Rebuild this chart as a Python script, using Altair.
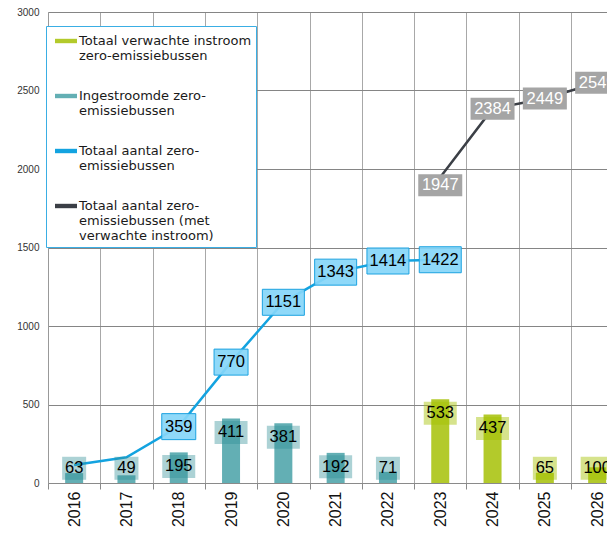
import altair as alt
import pandas as pd

# ---------------- data ----------------
years = ["2016", "2017", "2018", "2019", "2020", "2021", "2022",
         "2023", "2024", "2025", "2026"]

inflow_years = ["2016", "2017", "2018", "2019", "2020", "2021", "2022"]
inflow_values = [63, 49, 195, 411, 381, 192, 71]

expected_years = ["2023", "2024", "2025", "2026"]
expected_values = [533, 437, 65, 100]

total_years = ["2016", "2017", "2018", "2019", "2020", "2021", "2022", "2023"]
total_values = [115, 164, 359, 770, 1151, 1343, 1414, 1422]
total_label_years = ["2018", "2019", "2020", "2021", "2022", "2023"]

exp_total_years = ["2023", "2024", "2025", "2026"]
exp_total_values = [1947, 2384, 2449, 2549]

y_ticks = [0, 500, 1000, 1500, 2000, 2500, 3000]

S_EXP = "Totaal verwachte instroom|zero-emissiebussen"
S_IN = "Ingestroomde zero-|emissiebussen"
S_TOT = "Totaal aantal zero-|emissiebussen"
S_EXPTOT = "Totaal aantal zero-|emissiebussen (met|verwachte instroom)"
series_names = [S_EXP, S_IN, S_TOT, S_EXPTOT]
series_colors = ["#b3ca2b", "#63afb4", "#13a3e0", "#3b3f46"]

bars_df = pd.DataFrame({
    "year": inflow_years + expected_years,
    "value": inflow_values + expected_values,
    "series": [S_IN] * len(inflow_years) + [S_EXP] * len(expected_years),
})
tot_df = pd.DataFrame({"year": total_years, "total": total_values})
tot_lab_df = tot_df[tot_df["year"].isin(total_label_years)]
exp_df = pd.DataFrame({"year": exp_total_years, "total": exp_total_values})

# ---------------- layout ----------------
W, H = 559, 471
BAND = 52.3
FONT = "Liberation Sans"
LFONT = 16.5

xscale = alt.Scale(domain=years, range=[0, BAND * len(years)],
                   paddingInner=0, paddingOuter=0, round=False)
x_enc = alt.X("year:O", scale=xscale, sort=years,
              axis=alt.Axis(title=None, labelAngle=-90, labelFontSize=16,
                            labelFont=FONT, labelColor="#111",
                            tickBand="extent", grid=True, gridColor="#a8a8a8",
                            tickColor="#8a8a8a", tickSize=6, labelPadding=2,
                            domainColor="#8a8a8a"))
yscale = alt.Scale(domain=[0, 3000], nice=False)
y_axis = alt.Axis(values=y_ticks, format="d", grid=True, gridColor="#858585",
                  domainColor="#999999", ticks=False,
                  labelPadding=9, labelFontSize=10,
                  labelFont=FONT, labelColor="#333")


def y_enc(field):
    return alt.Y(field, scale=yscale, title=None, axis=y_axis)


legend = alt.Legend(
    title=None, orient="none", legendX=-2, legendY=14,
    fillColor="white", strokeColor="#3aaee4", padding=4, symbolOffset=5,
    labelFont="DejaVu Sans", labelFontSize=13, labelColor="#1a1a1a",
    labelExpr="split(datum.label, '|')",
    symbolType="M-1,-0.2H1V0.2H-1Z", symbolSize=484, symbolStrokeWidth=0,
    labelOffset=2, rowPadding=22, labelLimit=300,
)

bars = alt.Chart(bars_df).mark_bar(size=18).encode(
    x=x_enc,
    y=y_enc("value:Q"),
    color=alt.Color("series:N", scale=alt.Scale(domain=series_names, range=series_colors),
                    legend=legend),
)

lab = alt.Chart(bars_df).transform_calculate(
    lp="max(datum.value, 183)",
    bw="length(toString(datum.value)) * 9 + 6",
)
bar_box = lab.mark_bar(yOffset=2.5, y2Offset=25.5).encode(
    x=x_enc,
    y=y_enc("lp:Q"),
    y2="lp:Q",
    size=alt.Size("bw:Q", scale=None, legend=None),
    color=alt.condition(alt.datum.series == S_IN, alt.value("#2f8f95"), alt.value("#a4c000")),
    opacity=alt.condition(alt.datum.series == S_IN, alt.value(0.4), alt.value(0.45)),
)
bar_txt = lab.mark_text(dy=14, fontSize=LFONT, font=FONT, color="#000").encode(
    x=x_enc, y=y_enc("lp:Q"), text="value:Q")

line_blue = alt.Chart(tot_df).mark_line(color="#13a3e0", strokeWidth=2.5).encode(
    x=x_enc, y=y_enc("total:Q"))
line_gray = alt.Chart(exp_df).mark_line(color="#3b3f46", strokeWidth=2.5).encode(
    x=x_enc, y=y_enc("total:Q"))

blab = alt.Chart(tot_lab_df).transform_calculate(
    bw="length(toString(datum.total)) * 8 + 10")
blue_box = blab.mark_bar(yOffset=-13, y2Offset=13, fill="#86d6f8", fillOpacity=0.92,
                         stroke="#1ca2e0", strokeWidth=1).encode(
    x=x_enc, y=y_enc("total:Q"), y2="total:Q",
    size=alt.Size("bw:Q", scale=None, legend=None))
blue_txt = blab.mark_text(fontSize=LFONT, font=FONT, color="#000").encode(
    x=x_enc, y=y_enc("total:Q"), text="total:Q")

glab = alt.Chart(exp_df).transform_calculate(
    bw="length(toString(datum.total)) * 8 + 12")
first_gray = alt.datum.year == exp_total_years[0]
gray_layers = []
for sel, shift in ((first_gray, 8), (~first_gray, 0)):
    g = glab.transform_filter(sel)
    gray_layers.append(g.mark_bar(yOffset=-11 + shift, y2Offset=11 + shift,
                                  fill="#a5a5a5").encode(
        x=x_enc, y=y_enc("total:Q"), y2="total:Q",
        size=alt.Size("bw:Q", scale=None, legend=None)))
    gray_layers.append(g.mark_text(dy=shift, fontSize=LFONT, font=FONT,
                                   color="#ffffff").encode(
        x=x_enc, y=y_enc("total:Q"), text="total:Q"))

chart = alt.layer(
    bars, line_blue, bar_box, bar_txt, line_gray,
    blue_box, blue_txt, *gray_layers,
).properties(
    width=W, height=H,
    padding={"left": 40, "top": 4, "right": 0, "bottom": 51},
    autosize=alt.AutoSizeParams(type="none"),
    background="white",
).configure_view(stroke=None).configure(font=FONT).configure_legend(strokeWidth=1)

chart.save("out.html", embed_options={"renderer": "svg", "actions": False})
